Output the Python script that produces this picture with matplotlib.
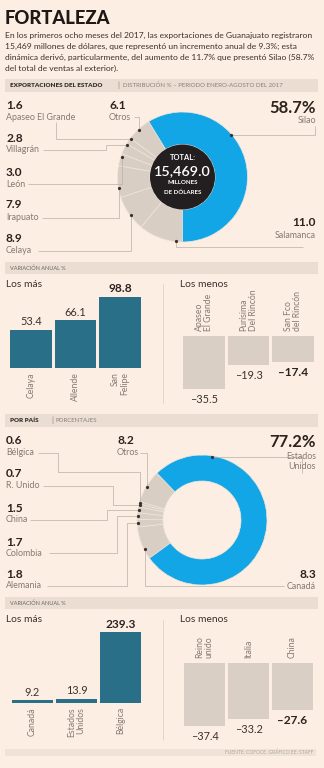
import matplotlib
matplotlib.use('Agg')
import matplotlib.pyplot as plt
from matplotlib.patches import Rectangle, Circle
import numpy as np

# ---------------- data ----------------
state_names = ["Salamanca", "Celaya", "Irapuato", "León", "Villagrán",
               "Apaseo El Grande", "Otros", "Silao"]
state_shares = [11.0, 8.9, 7.9, 3.0, 2.8, 1.6, 6.1, 58.7]
state_total = 15469.0
state_top_names = ["Celaya", "Allende", "San\nFelipe"]
state_top_vals = [53.4, 66.1, 98.8]
state_low_names = ["Apaseo\nEl Grande", "Purísima\nDel Rincón", "San Fco\ndel Rincón"]
state_low_vals = [-35.5, -19.3, -17.4]

country_names = ["Canadá", "Alemania", "Colombia", "China", "R. Unido",
                 "Bélgica", "Otros", "Estados\nUnidos"]
country_shares = [8.3, 1.8, 1.7, 1.5, 0.7, 0.6, 8.2, 77.2]
country_top_names = ["Canadá", "Estados\nUnidos", "Bélgica"]
country_top_vals = [9.2, 13.9, 239.3]
country_low_names = ["Reino\nunido", "Italia", "China"]
country_low_vals = [-37.4, -33.2, -27.6]

title = "FORTALEZA"
body = ["En los primeros ocho meses del 2017, las exportaciones de Guanajuato registraron",
        "15,469 millones de dólares, que representó un incremento anual de 9.3%; esta",
        "dinámica derivó, particularmente, del aumento de 11.7% que presentó Silao (58.7%",
        "del total de ventas al exterior)."]

# ---------------- style ----------------
BG = '#FCEEE3'
HDR = '#EADDD2'
BLUE = '#12A6E6'
GREY = '#D9CEC3'
SEP = '#EFE5DB'
DARK = '#231E1F'
TEAL = '#2A6F88'
NEG = '#D9CFC5'
TXT = '#2B221E'
LBL = '#857A72'
LINE = '#B9AFA7'
FONT = ['Lato', 'DejaVu Sans']

W, H = 324, 768
fig = plt.figure(figsize=(W / 100, H / 100), dpi=100)
fig.patch.set_facecolor(BG)
ax0 = fig.add_axes([0, 0, 1, 1])
ax0.set_facecolor(BG)


def Y(y):
    return H - y


def txt(x, y, s, size, weight='normal', color=TXT, ha='left', va='center', **kw):
    ax0.text(x, Y(y), s, fontsize=size, fontweight=weight, color=color,
             ha=ha, va=va, family=FONT, **kw)


def hbar(y0, y1, x0=5, x1=318, color=HDR):
    ax0.add_patch(Rectangle((x0, Y(y1)), x1 - x0, y1 - y0, facecolor=color,
                            lw=0, zorder=0))


def path(pts, color=LINE, lw=0.5):
    ax0.plot([p[0] for p in pts], [Y(p[1]) for p in pts], color=color, lw=lw,
             solid_capstyle='butt', zorder=1)


# ---------------- title & body ----------------
txt(5, 18.5, title, 13.2, weight='black', color='#1E1816')
for i, line in enumerate(body):
    txt(5, 35 + i * 11.2, line, 6.1, weight='normal', color='#3A312C')

# ---------------- headers ----------------
hbar(79, 92)
txt(10, 85.7, "EXPORTACIONES DEL ESTADO", 4.5, weight='heavy', color='#3A312C')
txt(117, 85.7, "|", 5.5, color='#8A8079')
txt(123, 85.7, "DISTRIBUCIÓN % – PERIODO ENERO-AGOSTO DEL 2017", 4.4, color='#8A8079')

hbar(262, 274)
txt(10, 268.2, "VARIACIÓN ANUAL %", 4.0, color='#6E655F')

hbar(414, 427)
txt(10, 420.7, "POR PAÍS", 4.5, weight='heavy', color='#3A312C')
txt(51, 420.7, "|", 5.5, color='#8A8079')
txt(56, 420.7, "PORCENTAJES", 4.4, color='#8A8079')

hbar(597, 609)
txt(10, 603.2, "VARIACIÓN ANUAL %", 4.0, color='#6E655F')

hbar(749, 756, 5, 316, color='#EFE3D8')
txt(313, 752.7, "FUENTE: COFOCE. GRÁFICO EE: STAFF", 3.5, color='#B0A69E', ha='right')


# ---------------- donuts ----------------
def donut(vals, cx, cy, R, hole, start):
    cols = [GREY] * (len(vals) - 1) + [BLUE]
    wedges, _ = ax0.pie(vals, colors=cols, startangle=start, counterclock=False,
                        radius=R, center=(cx, Y(cy)), frame=True,
                        wedgeprops=dict(width=R - hole, edgecolor=SEP, linewidth=0.5))
    return wedges


def anchor(w, t, cx, cy, R):
    a = np.deg2rad(w.theta2 - t * (w.theta2 - w.theta1))
    return cx + R * np.cos(a), cy - R * np.sin(a)


def fmt(v):
    return f"{v:.1f}"


# donut 1
c1x, c1y, R1, h1 = 182.5, 177, 65, 32.5
w1 = donut(state_shares, c1x, c1y, R1, h1, -90)
ax0.add_patch(Circle((c1x, Y(c1y)), h1, facecolor=DARK, lw=0, zorder=3))
txt(c1x, 157.5, "TOTAL:", 5.4, weight='bold', color='white', ha='center', zorder=4)
txt(c1x, 171, f"{state_total:,.1f}", 10.4, weight='semibold', color='white', ha='center', zorder=4)
txt(c1x, 182.5, "MILLONES", 4.4, weight='bold', color='white', ha='center', zorder=4)
txt(c1x, 192, "DE DÓLARES", 4.4, weight='bold', color='white', ha='center', zorder=4)

lay1 = [  # (num xy, name xy, ha, t, path)
    ((316, 222.7), (316, 235.7), 'right', 0.15, lambda dx, dy: [(dx, dy), (dx, 247), (303, 247)]),
    ((6, 239), (6, 250.7), 'left', 0.45, lambda dx, dy: [(38, 251), (dx, 251), (dx, dy)]),
    ((6, 204.3), (6, 217.3), 'left', 0.3, lambda dx, dy: [(42, 218), (dx, 218), (dx, dy)]),
    ((6, 172.3), (6, 184.3), 'left', 0.73, lambda dx, dy: [(28, 184), (dx, 184), (dx, dy)]),
    ((6, 138.3), (6, 150), 'left', 0.9, lambda dx, dy: [(43, 150), (106, 150), (106, dy), (dx, dy)]),
    ((6, 105.7), (6, 117), 'left', 0.9, lambda dx, dy: [(56, 122), (56, dy), (dx, dy)]),
    ((110, 105.7), (109, 117), 'left', 0.5, lambda dx, dy: [(134, 117), (dx, 117), (dx, dy)]),
    ((316, 107.7), (316, 120.7), 'right', 0.38, lambda dx, dy: [(dx, dy), (315, dy), (315, 126)]),
]
for i, (w, (nxy, mxy, ha, t, pf)) in enumerate(zip(w1, lay1)):
    dx, dy = anchor(w, t, c1x, c1y, R1 - 1)
    path(pf(dx, dy))
    ax0.plot([dx], [Y(dy)], 'o', ms=1.3, color='#3A312C', zorder=5)
    big = i == len(w1) - 1
    txt(nxy[0], nxy[1], fmt(state_shares[i]) + ('%' if big else ''),
        12 if big else 8.6, weight='bold', color=TXT, ha=ha)
    txt(mxy[0], mxy[1], state_names[i], 6.4, color=LBL, ha=ha)

# donut 2
c2x, c2y, R2, h2 = 202, 520, 65, 39
w2 = donut(country_shares, c2x, c2y, R2, h2, -144)

lay2 = [
    ((316, 574.3), (316, 586.7), 'right', 0.3, lambda dx, dy: [(dx, dy), (dx, 586), (284, 586)]),
    ((6, 575), (6, 586), 'left', 0.5, lambda dx, dy: [(47, 586), (127, 586), (127, dy), (dx, dy)]),
    ((6, 542.3), (6, 553.3), 'left', 0.5, lambda dx, dy: [(49, 553), (117, 553), (117, dy), (dx, dy)]),
    ((6, 508.3), (6, 520), 'left', 0.5, lambda dx, dy: [(30, 520), (107, 520), (107, dy), (dx, dy)]),
    ((6, 473.3), (6, 486), 'left', 0.5, lambda dx, dy: [(43, 486), (113, 486), (113, dy), (dx, dy)]),
    ((6, 440.7), (6, 452.7), 'left', 0.5, lambda dx, dy: [(38, 453), (58, 453), (58, 472), (dx, 472), (dx, dy)]),
    ((117, 440.7), (117, 452.7), 'left', 0.5, lambda dx, dy: [(140, 453), (dx, 453), (dx, dy)]),
    ((316, 442.3), (316, 461.5), 'right', 0.19, lambda dx, dy: [(dx, dy), (302, dy), (302, 473)]),
]
for i, (w, (nxy, mxy, ha, t, pf)) in enumerate(zip(w2, lay2)):
    dx, dy = anchor(w, t, c2x, c2y, R2 - 1)
    path(pf(dx, dy))
    ax0.plot([dx], [Y(dy)], 'o', ms=1.3, color='#3A312C', zorder=5)
    big = i == len(w2) - 1
    txt(nxy[0], nxy[1], fmt(country_shares[i]) + ('%' if big else ''),
        12 if big else 8.6, weight='bold', color=TXT, ha=ha)
    txt(mxy[0], mxy[1], country_names[i], 6.4, color=LBL, ha=ha,
        multialignment=ha, linespacing=1.05)

ax0.set_aspect('auto')
ax0.set_xlim(0, W)
ax0.set_ylim(0, H)
ax0.axis('off')

# ---------------- sub-titles & dividers ----------------
for ytop in (284.3, 620):
    txt(6, ytop, "Los más", 7.4, color='#3A312C')
    txt(180, ytop, "Los menos", 7.4, color='#3A312C')
path([(163, 284), (163, 403)], color='#DCD2C9', lw=0.6)
path([(163, 620), (163, 740)], color='#DCD2C9', lw=0.6)


# ---------------- bar panels ----------------
def panel(names, vals, x0, x1, ytop, ybot, ylim, color):
    ax = fig.add_axes([x0 / W, (H - ybot) / H, (x1 - x0) / W, (ybot - ytop) / H])
    ax.patch.set_alpha(0)
    ax.axis('off')
    idx = np.arange(len(vals))
    ax.bar(idx, vals, width=0.94, color=color, lw=0)
    ax.set_xlim(-0.5, len(vals) - 0.5)
    ax.set_ylim(*ylim)
    for i, v in enumerate(vals):
        hl = i == len(vals) - 1
        s = fmt(v).replace('-', '–')
        if v >= 0:
            ax.annotate(s, (i, v), xytext=(0, 1.8), textcoords='offset points',
                        ha='center', va='bottom', fontsize=8.6 if hl else 7.8,
                        fontweight='bold' if hl else 'normal', color=TXT if hl else '#3A312C',
                        family=FONT, annotation_clip=False)
            ax.annotate(names[i], (i, 0), xytext=(0, -3), textcoords='offset points',
                        ha='center', va='top', rotation=90, multialignment='right',
                        fontsize=6.2, color=LBL, family=FONT, linespacing=1.0,
                        annotation_clip=False)
        else:
            ax.annotate(s, (i, v), xytext=(0, -3.5), textcoords='offset points',
                        ha='center', va='top', fontsize=8.6 if hl else 7.8,
                        fontweight='bold' if hl else 'normal', color=TXT if hl else '#3A312C',
                        family=FONT, annotation_clip=False)
            ax.annotate(names[i], (i, 0), xytext=(0, 3.5), textcoords='offset points',
                        ha='center', va='bottom', rotation=90, multialignment='left',
                        fontsize=6.2, color=LBL, family=FONT, linespacing=1.0,
                        annotation_clip=False)
    return ax


panel(state_top_names, state_top_vals, 8.75, 142.25, 296, 368, (0, 100), TEAL)
panel(state_low_names, state_low_vals, 181.75, 315.25, 336, 396, (-40, 0), NEG)
panel(country_top_names, country_top_vals, 10.5, 142.5, 629, 703, (0, 250), TEAL)
panel(country_low_names, country_low_vals, 182.5, 314.5, 663, 730.6, (-40, 0), NEG)

fig.savefig('out.png', dpi=100, facecolor=BG)
